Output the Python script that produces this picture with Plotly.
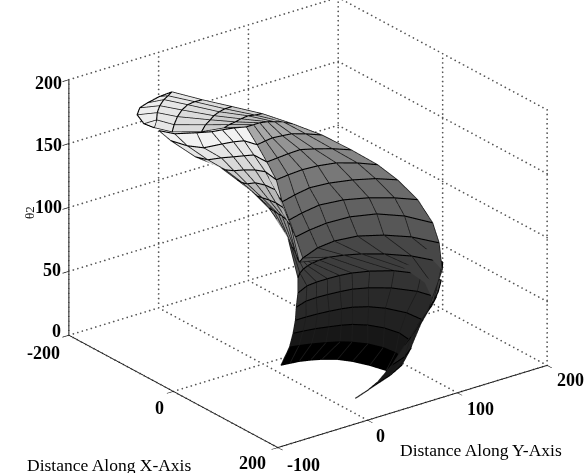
import plotly.graph_objects as go

Z_LEVELS = [190, 180, 170, 160, 150, 140, 130, 120, 110, 100, 90, 80, 70, 60, 50, 40, 30, 20, 10, 0]

_ = None
X_ROWS = [
    [_, _, _, _, _, _, -61, -77, -102, -116, -122, -128, -130],
    [_, _, _, _, _, _, -90, -106, -122, -136, -147, -153, -159],
    [_, _, _, _, _, _, -97, -112, -128, -140, -148, -150, -149],
    [_, _, _, _, _, _, -106, -119, -127, -134, -139, -142, -142],
    [_, _, _, _, _, _, -128, -132, -134, -137, -139, -136, -134],
    [-196, -178, -165, -157, -154, -150, -144, -144, -144, -141, -136, -130, -119],
    [-194, -171, -155, -151, -148, -143, -125, -128, -130, -128, -126, -116, -102],
    [-169, -154, -149, -143, -138, -133, -108, -110, -112, -113, -105, -93, -77],
    [-159, -148, -140, -135, -127, -116, -90, -93, -95, -93, -87, -72, -54],
    [-146, -136, -130, -127, -115, -97, -65, -72, -78, -75, -66, -53, -35],
    [-137, -125, -117, -107, -96, -79, -48, -55, -61, -56, -43, -25, -5],
    [-118, -108, -98, -91, -78, -62, -34, -40, -44, -42, -30, -6, 29],
    [-81, -60, -42, -29, -16, -3, -10, -23, -27, -22, -6, 17, 50],
    [3, -7, -14, -18, -21, -23, -23, -17, -8, 8, 32, 67, 85],
    [8, -2, -4, -4, -3, 0, 8, 24, 50, 78, 103, 120, 137],
    [10, 3, 2, 3, 5, 8, 16, 32, 58, 84, 101, 117, 135],
    [10, 10, 11, 13, 16, 20, 30, 45, 70, 98, 114, 128, 142],
    [9, 11, 14, 19, 24, 30, 42, 60, 82, 106, 125, 140, 150],
    [9, 12, 17, 24, 32, 41, 56, 75, 95, 110, 128, 143, 155],
    [15, 17, 19, 24, 30, 41, 56, 77, 100, 112, 118, 132, 142],
]
Y_ROWS = [
    [_, _, _, _, _, _, -86, -88, -81, -70, -58, -41, -26],
    [_, _, _, _, _, _, -69, -57, -47, -36, -25, -17, -9],
    [_, _, _, _, _, _, -45, -34, -21, -9, 2, 11, 19],
    [_, _, _, _, _, _, -7, 5, 15, 23, 32, 40, 48],
    [_, _, _, _, _, _, 31, 39, 47, 55, 64, 70, 77],
    [-2, 5, 22, 34, 44, 55, 65, 73, 80, 87, 92, 98, 102],
    [10, 15, 24, 42, 53, 62, 66, 77, 86, 96, 105, 115, 125],
    [23, 28, 40, 50, 59, 67, 67, 80, 93, 107, 118, 131, 143],
    [44, 44, 49, 57, 65, 70, 67, 82, 99, 115, 132, 147, 159],
    [56, 56, 58, 65, 69, 70, 59, 77, 97, 117, 138, 156, 170],
    [68, 66, 67, 69, 70, 69, 57, 75, 98, 122, 143, 161, 175],
    [75, 75, 74, 74, 72, 67, 56, 75, 96, 121, 144, 161, 172],
    [73, 64, 57, 53, 47, 42, 50, 74, 95, 118, 138, 155, 167],
    [37, 45, 53, 60, 67, 76, 87, 100, 114, 130, 147, 161, 150],
    [34, 50, 62, 74, 87, 99, 114, 132, 147, 153, 135, 120, 104],
    [31, 46, 58, 70, 83, 95, 108, 124, 138, 144, 129, 112, 94],
    [30, 42, 54, 66, 78, 88, 100, 110, 119, 121, 104, 90, 75],
    [28, 38, 50, 62, 73, 82, 92, 100, 104, 102, 92, 76, 56],
    [24, 33, 44, 56, 67, 75, 84, 90, 92, 91, 80, 58, 34],
    [11, 20, 29, 39, 48, 59, 67, 74, 79, 72, 61, 40, 20],
]
MAIN_SHADE = [.93, .90, .86, .80, .74, .66, .58, .52, .47, .42, .38, .34, .28, .24, .20, .16, .13, .09, .0]
LIGHT_SHADE = [_, _, _, _, _, .95, .90, .85, .80, .72, .66, .55, .30, .24, .20, .16, .13, .09, .0]

X_TICKS = [-200, 0, 200]
Y_TICKS = [-100, 0, 100, 200]
Z_TICKS = [0, 50, 100, 150, 200]

vx, vy, vz, fi, fj, fk, fc, index = [], [], [], [], [], [], [], {}
for r, (xr, yr) in enumerate(zip(X_ROWS, Y_ROWS)):
    for c, (a, b) in enumerate(zip(xr, yr)):
        if a is not None:
            index[(r, c)] = len(vx)
            vx.append(a); vy.append(b); vz.append(Z_LEVELS[r])


def grey(v):
    g = int(round(255 * v))
    return f"rgb({g},{g},{g})"


for r in range(len(X_ROWS) - 1):
    for c in range(len(X_ROWS[0]) - 1):
        corners = [(r, c), (r, c + 1), (r + 1, c + 1), (r + 1, c)]
        if not all(p in index for p in corners):
            continue
        p = [index[q] for q in corners]
        shade = LIGHT_SHADE[r] if c < 6 and LIGHT_SHADE[r] is not None else MAIN_SHADE[r]
        fi += [p[0], p[0]]; fj += [p[1], p[2]]; fk += [p[2], p[3]]
        fc += [grey(shade)] * 2

fig = go.Figure()
fig.add_trace(go.Mesh3d(x=vx, y=vy, z=vz, i=fi, j=fj, k=fk, facecolor=fc, flatshading=True,
                        lighting=dict(ambient=1, diffuse=0, specular=0, fresnel=0, roughness=1),
                        hoverinfo="skip", showscale=False))

# mesh lines are nudged a little along the line of sight so the faces do not cut through them
NUDGE = (4.4, -2.5, 1.5)

rx, ry, rz = [], [], []
for r, (xr, yr) in enumerate(zip(X_ROWS, Y_ROWS)):
    for a, b in zip(xr, yr):
        if a is not None:
            rx.append(a + NUDGE[0]); ry.append(b + NUDGE[1]); rz.append(Z_LEVELS[r] + NUDGE[2])
    rx.append(None); ry.append(None); rz.append(None)
fig.add_trace(go.Scatter3d(x=rx, y=ry, z=rz, mode="lines", line=dict(color="#000000", width=2.2),
                           hoverinfo="skip", showlegend=False))

cx, cy, cz = [], [], []
for c in range(len(X_ROWS[0])):
    for r in range(len(X_ROWS)):
        if X_ROWS[r][c] is not None:
            cx.append(X_ROWS[r][c] + NUDGE[0]); cy.append(Y_ROWS[r][c] + NUDGE[1]); cz.append(Z_LEVELS[r] + NUDGE[2])
    cx.append(None); cy.append(None); cz.append(None)
fig.add_trace(go.Scatter3d(x=cx, y=cy, z=cz, mode="lines", line=dict(color="#1c1c1c", width=1.6),
                           hoverinfo="skip", showlegend=False))

# dotted grid on the floor and the two back walls, drawn as rows of tiny dots
gx, gy, gz = [], [], []
xmin, xmax, ymin, ymax, zmin, zmax = X_TICKS[0], X_TICKS[-1], Y_TICKS[0], Y_TICKS[-1], Z_TICKS[0], Z_TICKS[-1]


def seg(a, b, n):
    for k in range(n + 1):
        f = k / n
        gx.append(a[0] + (b[0] - a[0]) * f)
        gy.append(a[1] + (b[1] - a[1]) * f)
        gz.append(a[2] + (b[2] - a[2]) * f)


for t in X_TICKS:
    seg((t, ymin, zmin), (t, ymax, zmin), 60)
    seg((t, ymax, zmin), (t, ymax, zmax), 55)
for t in Y_TICKS:
    seg((xmin, t, zmin), (xmax, t, zmin), 50)
    seg((xmin, t, zmin), (xmin, t, zmax), 55)
for t in Z_TICKS:
    seg((xmin, ymin, t), (xmin, ymax, t), 60)
    seg((xmin, ymax, t), (xmax, ymax, t), 50)
fig.add_trace(go.Scatter3d(x=gx, y=gy, z=gz, mode="markers",
                           marker=dict(color="#555555", size=1, line=dict(width=0)),
                           hoverinfo="skip", showlegend=False))


def axis(rng, ticks):
    return dict(range=rng, tickvals=ticks, title=dict(text=""), showticklabels=False,
                showgrid=False, zeroline=False, showbackground=False, showspikes=False,
                showline=True, linecolor="#111111", linewidth=2, ticks="outside", ticklen=8,
                tickwidth=1.5, tickcolor="#111111")


tick_font = dict(family="Liberation Serif", size=18, color="#000000", weight="bold")


def tick(x, y, z, label, dx, dy):
    return dict(x=x, y=y, z=z, text=label, showarrow=False, xshift=dx, yshift=dy, font=tick_font)


labels = [
    tick(-200, -100, 0, "-200", -25, -18), tick(0, -100, 0, "0", -14, -17), tick(200, -100, 0, "200", -25, -15),
    tick(200, -100, 0, "-100", 26, -17), tick(200, 0, 0, "0", 13, -16), tick(200, 100, 0, "100", 23, -16),
    tick(200, 200, 0, "200", 23, -15),
    tick(-200, -100, 200, "200", -20, -3), tick(-200, -100, 150, "150", -20, -1),
    tick(-200, -100, 100, "100", -20, 0), tick(-200, -100, 50, "50", -17, 1), tick(-200, -100, 0, "0", -12, 4),
]

title_font = dict(family="Liberation Serif", size=17.5, color="#000000")
k = 444 / 473
fig.update_layout(
    width=586, height=473, margin=dict(l=0, r=0, t=0, b=0), paper_bgcolor="white", showlegend=False,
    scene=dict(
        domain=dict(x=[0, 1], y=[0, 1]),
        xaxis=axis([-200, 200], X_TICKS),
        yaxis=axis([-100, 200], Y_TICKS),
        zaxis=axis([0, 200], Z_TICKS),
        aspectmode="manual", aspectratio=dict(x=1.564 * k, y=1.519 * k, z=1.259 * k),
        camera=dict(projection=dict(type="orthographic"),
                    eye=dict(x=1.46 - 0.019, y=-1.10 - 0.065, z=0.81 - 0.054),
                    up=dict(x=0, y=0, z=1), center=dict(x=-0.019, y=-0.065, z=-0.054)),
        annotations=labels,
    ),
    annotations=[
        dict(text="Distance Along X-Axis", x=25 / 586, y=1 - 465 / 473, xref="paper", yref="paper", xanchor="left",
             yanchor="middle", showarrow=False, font=title_font),
        dict(text="Distance Along Y-Axis", x=398 / 586, y=1 - 450 / 473, xref="paper", yref="paper", xanchor="left",
             yanchor="middle", showarrow=False, font=title_font),
        dict(text="θ2", x=29 / 586, y=1 - 213 / 473, xref="paper", yref="paper", textangle=-90, showarrow=False,
             xanchor="center", yanchor="middle",
             font=dict(family="Liberation Serif", size=13, color="#111111")),
    ],
)
fig.write_html("out.html", config={"displayModeBar": False}, post_script="document.body.style.margin='0';")
